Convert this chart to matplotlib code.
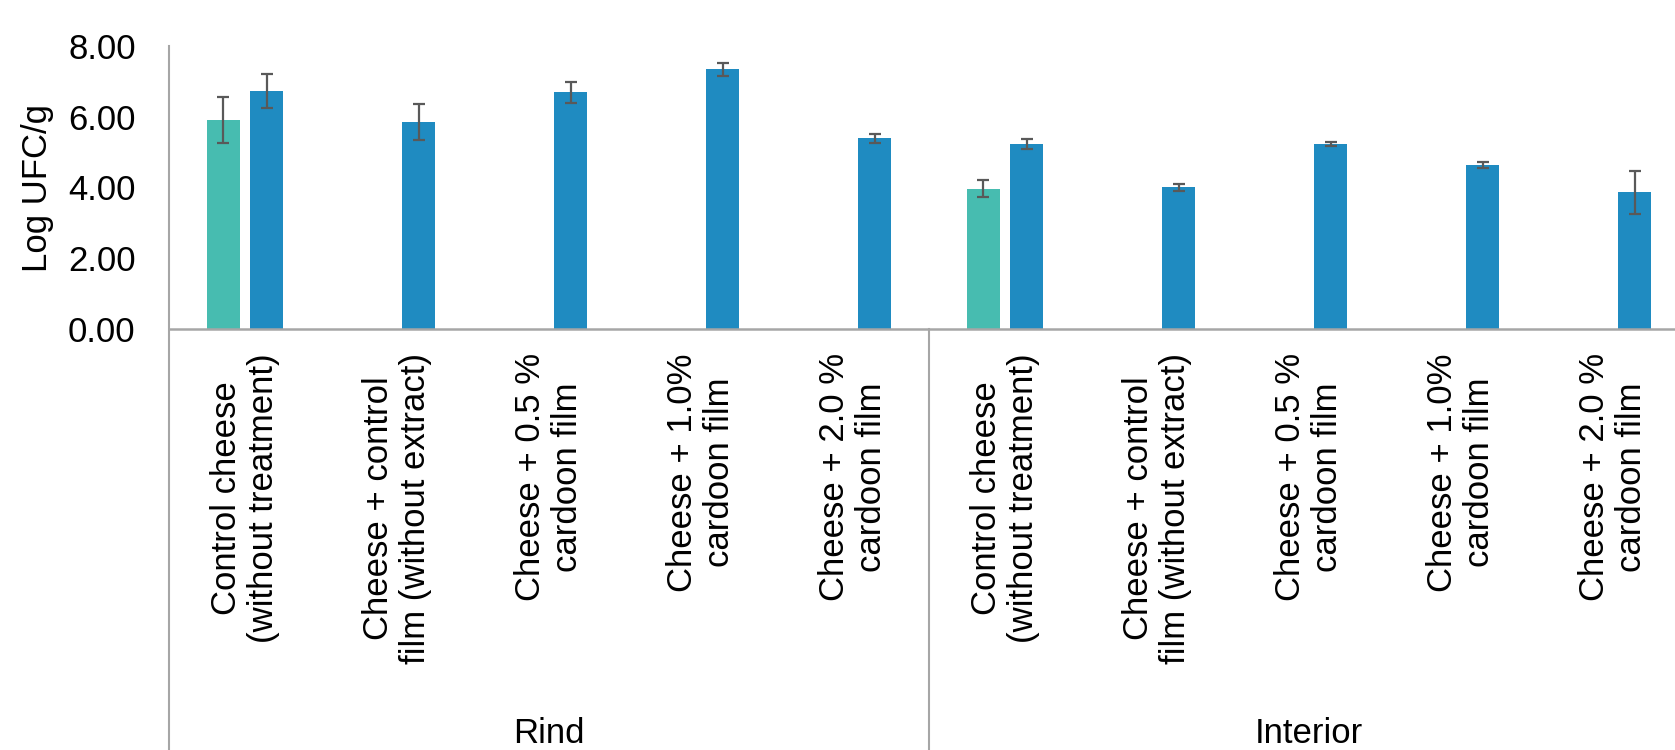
import numpy as np
from matplotlib import pyplot as plt
from matplotlib import transforms

plt.rcParams['font.family'] = ['Liberation Sans', 'DejaVu Sans']

# data
groups = ["Rind", "Interior"]
treatments = ["Control cheese\n(without treatment)",
              "Cheese + control\nfilm (without extract)",
              "Cheese + 0.5 %\ncardoon film",
              "Cheese + 1.0%\ncardoon film",
              "Cheese + 2.0 %\ncardoon film"]

# first series only exists for the control cheese
initial_vals = [5.90, np.nan, np.nan, np.nan, np.nan,
                3.97, np.nan, np.nan, np.nan, np.nan]
initial_err = [0.65, np.nan, np.nan, np.nan, np.nan,
               0.23, np.nan, np.nan, np.nan, np.nan]
final_vals = [6.73, 5.86, 6.69, 7.34, 5.39, 5.23, 4.00, 5.23, 4.63, 3.86]
final_err = [0.48, 0.51, 0.30, 0.19, 0.13, 0.13, 0.09, 0.05, 0.08, 0.62]

yticks = [0, 2, 4, 6, 8]

W, H = 1675, 750
fig = plt.figure(figsize=(W / 100, H / 100), dpi=100)
# axes runs past the right edge, like the cropped original
ax = fig.add_axes([169 / W, 421 / H, 1520 / W, 283 / H])

n = len(groups) * len(treatments)
x = np.arange(n)
bw = 0.22
off = 0.142
teal = '#47BCB0'
blue = '#1F8BC1'
ecol = '#595959'

ax.bar(x - off, initial_vals, bw, color=teal, zorder=2)
ax.bar(x + off, final_vals, bw, color=blue, zorder=2)
ax.errorbar(x - off, initial_vals, yerr=initial_err, fmt='none', ecolor=ecol,
            elinewidth=1.6, capsize=4.5, capthick=1.6, zorder=3)
ax.errorbar(x + off, final_vals, yerr=final_err, fmt='none', ecolor=ecol,
            elinewidth=1.6, capsize=4.5, capthick=1.6, zorder=3)

ax.set_xlim(-0.5, n - 0.5)
ax.set_ylim(0, 8)
ax.set_yticks(yticks)
ax.set_yticklabels(['%.2f' % v for v in yticks], fontsize=25)
ax.tick_params(axis='y', length=0, pad=24)
ax.set_xticks([])

axcol = '#A6A6A6'
for s in ['top', 'right']:
    ax.spines[s].set_visible(False)
ax.spines['left'].set_visible(False)
ax.spines['bottom'].set_color(axcol)
ax.spines['bottom'].set_linewidth(1.8)

# group separators run from the top of the axis down to the image bottom
bottom = -(H - 329) / 283
trans = transforms.blended_transform_factory(ax.transData, ax.transAxes)
for i in range(len(groups) + 1):
    xs = i * len(treatments) - 0.5
    top = 1.0 if i == 0 else 0.0
    ax.plot([xs, xs], [bottom, top], color=axcol, lw=1.5, transform=trans,
            clip_on=False)

# category labels, rotated, top aligned just under the axis
lab_y = -(353 - 329) / 283
for gi, g in enumerate(groups):
    for ti, t in enumerate(treatments):
        ax.text(gi * len(treatments) + ti, lab_y, t, transform=trans,
                rotation=90, ha='center', va='top', multialignment='center',
                fontsize=25, linespacing=1.15)
    ax.text(gi * len(treatments) + (len(treatments) - 1) / 2,
            -(743 - 329) / 283, g, transform=trans, ha='center',
            va='baseline', fontsize=25)

fig.text(37 / W, 1 - 187.5 / H, 'Log UFC/g', rotation=90, ha='center',
         va='center', fontsize=25)

plt.savefig('out.png', dpi=100)
